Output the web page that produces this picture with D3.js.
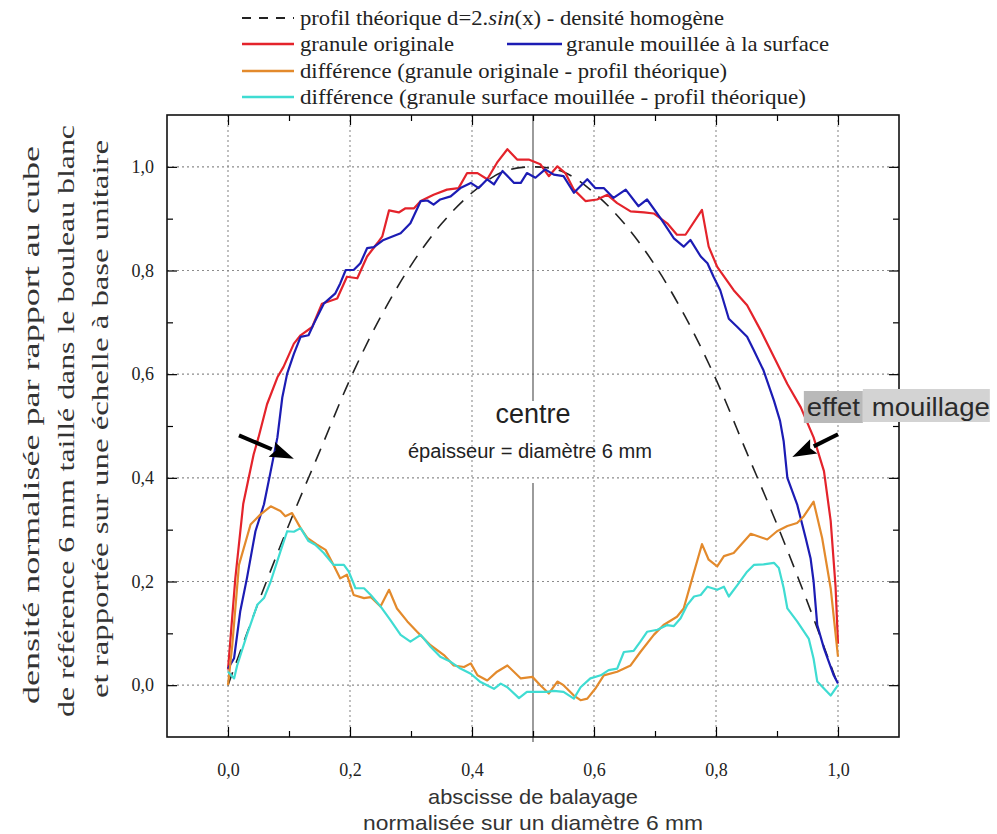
<!DOCTYPE html>
<html><head><meta charset="utf-8">
<script src="https://cdn.jsdelivr.net/npm/d3@7"></script>
<style>body{margin:0;background:#fff}svg{display:block}</style>
</head><body><svg id="c" width="997" height="834"></svg>
<script>
// ---------------- DATA ----------------
const xTicks=[0,0.2,0.4,0.6,0.8,1.0];
const xTickLabels=["0,0","0,2","0,4","0,6","0,8","1,0"];
const yTicks=[0,0.2,0.4,0.6,0.8,1.0];
const yTickLabels=["0,0","0,2","0,4","0,6","0,8","1,0"];
const minorTicks=[0.1,0.3,0.5,0.7,0.9];

// theoretical profile (dashed)
const theoX=[0,0.05,0.1,0.15,0.2,0.25,0.3,0.35,0.4,0.45,0.5,0.55,0.6,0.65,0.7,0.75,0.8,0.85,0.9,0.95,1.0];
const theoY=[0,0.16,0.31,0.45,0.59,0.71,0.81,0.89,0.95,0.99,1.0,0.99,0.95,0.89,0.81,0.71,0.59,0.45,0.31,0.16,0];

// granule originale (red)
const original=[[0.0,0.03],[0.012,0.206],[0.025,0.35],[0.042,0.445],[0.05,0.478],[0.064,0.542],[0.081,0.594],[0.091,0.614],[0.108,0.659],[0.119,0.675],[0.138,0.691],[0.154,0.736],[0.179,0.746],[0.195,0.788],[0.212,0.785],[0.228,0.827],[0.245,0.853],[0.253,0.866],[0.264,0.916],[0.28,0.912],[0.291,0.92],[0.305,0.92],[0.316,0.934],[0.337,0.946],[0.359,0.956],[0.378,0.959],[0.392,0.988],[0.409,0.988],[0.425,0.976],[0.441,1.008],[0.458,1.034],[0.474,1.014],[0.493,1.014],[0.512,1.005],[0.526,0.982],[0.54,1.001],[0.553,0.988],[0.567,0.956],[0.586,0.934],[0.605,0.937],[0.622,0.946],[0.638,0.93],[0.66,0.914],[0.682,0.912],[0.698,0.91],[0.72,0.891],[0.736,0.869],[0.75,0.869],[0.777,0.917],[0.788,0.846],[0.802,0.807],[0.829,0.762],[0.851,0.733],[0.873,0.685],[0.895,0.633],[0.917,0.581],[0.939,0.536],[0.96,0.478],[0.977,0.413],[0.988,0.317],[0.996,0.19],[1.0,0.08]];

// granule mouillée à la surface (blue)
const wetted=[[0.0,0.032],[0.01,0.052],[0.02,0.142],[0.031,0.206],[0.045,0.297],[0.059,0.349],[0.07,0.413],[0.081,0.478],[0.089,0.555],[0.097,0.601],[0.108,0.639],[0.119,0.672],[0.132,0.675],[0.141,0.698],[0.157,0.736],[0.176,0.756],[0.184,0.775],[0.193,0.801],[0.206,0.801],[0.217,0.814],[0.228,0.843],[0.239,0.845],[0.255,0.859],[0.283,0.872],[0.299,0.891],[0.316,0.934],[0.327,0.935],[0.337,0.927],[0.348,0.937],[0.365,0.943],[0.381,0.959],[0.398,0.969],[0.411,0.959],[0.425,0.976],[0.436,0.966],[0.45,0.992],[0.469,0.969],[0.48,0.969],[0.49,0.988],[0.504,0.979],[0.52,0.995],[0.534,0.985],[0.55,0.982],[0.567,0.95],[0.589,0.976],[0.602,0.959],[0.616,0.959],[0.632,0.94],[0.652,0.956],[0.673,0.924],[0.687,0.937],[0.709,0.901],[0.731,0.862],[0.747,0.846],[0.758,0.859],[0.775,0.827],[0.786,0.814],[0.796,0.788],[0.807,0.762],[0.821,0.707],[0.835,0.691],[0.851,0.672],[0.862,0.646],[0.878,0.607],[0.895,0.549],[0.905,0.51],[0.911,0.47],[0.917,0.4],[0.933,0.349],[0.947,0.284],[0.955,0.245],[0.96,0.2],[0.966,0.116],[0.977,0.071],[0.993,0.019],[1.0,0.003]];

// différence (granule originale - profil théorique) (orange)
const diffOriginal=[[0.0,0.0],[0.007,0.077],[0.018,0.232],[0.037,0.31],[0.053,0.329],[0.07,0.345],[0.086,0.336],[0.094,0.326],[0.105,0.332],[0.119,0.303],[0.13,0.284],[0.146,0.271],[0.16,0.261],[0.173,0.232],[0.184,0.206],[0.195,0.213],[0.206,0.174],[0.223,0.168],[0.234,0.17],[0.25,0.152],[0.264,0.184],[0.277,0.148],[0.294,0.123],[0.31,0.103],[0.332,0.077],[0.354,0.058],[0.37,0.038],[0.387,0.035],[0.398,0.042],[0.409,0.019],[0.425,0.009],[0.441,0.026],[0.458,0.038],[0.48,0.013],[0.499,0.016],[0.512,0.0],[0.526,-0.016],[0.54,0.007],[0.55,0.0],[0.567,-0.02],[0.578,-0.029],[0.589,-0.026],[0.602,-0.007],[0.616,0.019],[0.638,0.026],[0.66,0.038],[0.676,0.064],[0.698,0.097],[0.714,0.116],[0.736,0.132],[0.747,0.148],[0.761,0.206],[0.777,0.272],[0.788,0.242],[0.802,0.229],[0.813,0.249],[0.829,0.255],[0.857,0.292],[0.884,0.281],[0.9,0.297],[0.917,0.307],[0.933,0.313],[0.944,0.326],[0.96,0.354],[0.974,0.284],[0.988,0.187],[1.0,0.055]];

// différence (granule surface mouillée - profil théorique) (cyan)
const diffWetted=[[0.0,0.026],[0.01,0.013],[0.015,0.038],[0.031,0.097],[0.048,0.155],[0.059,0.168],[0.07,0.2],[0.086,0.258],[0.097,0.297],[0.108,0.296],[0.119,0.303],[0.132,0.278],[0.143,0.271],[0.157,0.255],[0.173,0.232],[0.19,0.232],[0.198,0.219],[0.209,0.187],[0.223,0.187],[0.234,0.174],[0.25,0.152],[0.266,0.126],[0.283,0.097],[0.299,0.084],[0.316,0.097],[0.332,0.074],[0.348,0.055],[0.365,0.045],[0.381,0.032],[0.398,0.022],[0.414,0.006],[0.436,-0.007],[0.447,0.003],[0.458,-0.004],[0.477,-0.025],[0.49,-0.013],[0.507,-0.013],[0.523,-0.013],[0.534,-0.011],[0.55,-0.013],[0.567,-0.026],[0.578,-0.004],[0.594,0.013],[0.611,0.019],[0.624,0.029],[0.638,0.032],[0.649,0.064],[0.665,0.066],[0.676,0.084],[0.687,0.103],[0.704,0.107],[0.72,0.116],[0.731,0.114],[0.742,0.129],[0.753,0.155],[0.764,0.171],[0.775,0.174],[0.786,0.19],[0.802,0.184],[0.813,0.19],[0.821,0.171],[0.835,0.193],[0.851,0.219],[0.862,0.232],[0.878,0.233],[0.895,0.236],[0.903,0.226],[0.911,0.187],[0.917,0.148],[0.933,0.123],[0.952,0.09],[0.96,0.051],[0.966,0.007],[0.988,-0.02],[1.0,0.0]];

const legendRow2=["granule originale","granule mouillée à la surface"];
const legendRow3="différence (granule originale - profil théorique)";
const legendRow4="différence (granule surface mouillée - profil théorique)";
const yTitle=["densité normalisée par rapport au cube","de référence 6 mm taillé dans le bouleau blanc","et rapportée sur une échelle à base unitaire"];
const xTitle=["abscisse de balayage","normalisée sur un diamètre 6 mm"];

// ---------------- DRAW ----------------
const colors={red:"#e4232b",blue:"#1c1cb4",orange:"#e38a2c",cyan:"#3fdcd2"};
const svg=d3.select("#c");
const L=167,R=899,T=115,B=737;
const x=d3.scaleLinear([-0.1,1.1],[L,R]);
const y=d3.scaleLinear([-0.1,1.1],[B,T]);
const SERIF='"Liberation Serif", serif';
const SANS='"Liberation Sans", sans-serif';

svg.append("clipPath").attr("id","clip").append("rect").attr("x",L).attr("y",T).attr("width",R-L).attr("height",B-T);

// grid
const grid=svg.append("g").attr("stroke","#8c8c8c").attr("stroke-width",1.1).attr("stroke-dasharray","2,3");
xTicks.forEach(v=>grid.append("line").attr("x1",x(v)).attr("x2",x(v)).attr("y1",T).attr("y2",B));
yTicks.forEach(v=>grid.append("line").attr("y1",y(v)).attr("y2",y(v)).attr("x1",L).attr("x2",R));

// centre line
const cg=svg.append("g").attr("stroke","#666").attr("stroke-width",1.3);
cg.append("line").attr("x1",x(0.5)).attr("x2",x(0.5)).attr("y1",T).attr("y2",y(0.548));
cg.append("line").attr("x1",x(0.5)).attr("x2",x(0.5)).attr("y1",y(0.39)).attr("y2",B+5);

// axes
function style(g){g.select(".domain").remove();g.selectAll(".tick line").attr("stroke","#000").attr("stroke-width",1.2);}
const fmtX=(d)=>xTickLabels[xTicks.indexOf(d)]||"";
const fmtY=(d)=>yTickLabels[yTicks.indexOf(d)]||"";
svg.append("g").attr("transform",`translate(0,${B})`).call(d3.axisBottom(x).tickValues(xTicks).tickSize(-10).tickPadding(26).tickFormat(fmtX)).call(style)
  .attr("font-family",null).attr("font-size",null)
  .selectAll("text").style("font-family",SERIF).style("font-size","18px").attr("fill","#222");
svg.append("g").attr("transform",`translate(0,${B})`).call(d3.axisBottom(x).tickValues(minorTicks).tickSize(-6).tickFormat("")).call(style);
svg.append("g").attr("transform",`translate(0,${T})`).call(d3.axisTop(x).tickValues(xTicks).tickSize(-10).tickFormat("")).call(style);
svg.append("g").attr("transform",`translate(0,${T})`).call(d3.axisTop(x).tickValues(minorTicks).tickSize(-6).tickFormat("")).call(style);
svg.append("g").attr("transform",`translate(${L},0)`).call(d3.axisLeft(y).tickValues(yTicks).tickSize(-10).tickPadding(13).tickFormat(fmtY)).call(style)
  .attr("font-family",null).attr("font-size",null)
  .selectAll("text").style("font-family",SERIF).style("font-size","18px").attr("fill","#222");
svg.append("g").attr("transform",`translate(${L},0)`).call(d3.axisLeft(y).tickValues(minorTicks).tickSize(-6).tickFormat("")).call(style);
svg.append("g").attr("transform",`translate(${R},0)`).call(d3.axisRight(y).tickValues(yTicks).tickSize(-10).tickFormat("")).call(style);
svg.append("g").attr("transform",`translate(${R},0)`).call(d3.axisRight(y).tickValues(minorTicks).tickSize(-6).tickFormat("")).call(style);

svg.append("rect").attr("x",L).attr("y",T).attr("width",R-L).attr("height",B-T).attr("fill","none").attr("stroke","#111").attr("stroke-width",1.6);

// series
const plot=svg.append("g").attr("clip-path","url(#clip)");
const line=d3.line().x(d=>x(d[0])).y(d=>y(d[1]));
const theo=theoX.map((v,i)=>[v,theoY[i]]);
plot.append("path").attr("d",d3.line().x(d=>x(d[0])).y(d=>y(d[1])).curve(d3.curveCatmullRom)(theo))
  .attr("fill","none").attr("stroke","#222").attr("stroke-width",1.6).attr("stroke-dasharray","14,10");
[[original,colors.red],[wetted,colors.blue],[diffOriginal,colors.orange],[diffWetted,colors.cyan]].forEach(([d,c])=>{
  plot.append("path").attr("d",line(d)).attr("fill","none").attr("stroke",c).attr("stroke-width",2.2).attr("stroke-linejoin","round");
});

// arrows
function arrow(x0,y0,x1,y1){
  const ax=x(x0),ay=y(y0),bx=x(x1),by=y(y1);
  const dx=bx-ax,dy=by-ay,len=Math.hypot(dx,dy),ux=dx/len,uy=dy/len;
  const hl=24,hw=8;
  const hx=bx-ux*hl,hy=by-uy*hl;
  svg.append("line").attr("x1",ax).attr("y1",ay).attr("x2",hx).attr("y2",hy).attr("stroke","#000").attr("stroke-width",4);
  svg.append("path").attr("d",`M${bx},${by}L${hx-uy*hw},${hy+ux*hw}L${hx+ux*4},${hy+uy*4}L${hx+uy*hw},${hy-ux*hw}Z`).attr("fill","#000");
}
arrow(0.018,0.482,0.108,0.437);
arrow(1.0,0.484,0.925,0.44);

// annotations
svg.append("text").attr("x",x(0.5)).attr("y",y(0.506)).attr("text-anchor","middle").style("font-family",SANS).style("font-size","27px").attr("fill","#222").text("centre");
svg.append("text").attr("x",x(0.495)).attr("y",y(0.438)).attr("text-anchor","middle").style("font-family",SANS).style("font-size","20px").attr("fill","#222")
  .attr("textLength",244).attr("lengthAdjust","spacingAndGlyphs").text("épaisseur = diamètre 6 mm");

const eg=svg.append("g");
eg.append("rect").attr("x",x(0.944)).attr("y",391).attr("width",59).attr("height",32).attr("fill","#b9b9b9");
eg.append("rect").attr("x",x(0.944)+59).attr("y",389).attr("width",127).attr("height",33).attr("fill","#d3d3d3");
eg.append("text").attr("x",x(0.944)+3).attr("y",416).style("font-family",SANS).style("font-size","26px").attr("fill","#2b2b2b")
  .attr("textLength",53).attr("lengthAdjust","spacingAndGlyphs").text("effet");
eg.append("text").attr("x",x(0.944)+68).attr("y",416).style("font-family",SANS).style("font-size","26px").attr("fill","#2b2b2b")
  .attr("textLength",118).attr("lengthAdjust","spacingAndGlyphs").text("mouillage");

// legend
const lg=svg.append("g").style("font-family",SERIF).style("font-size","22px").attr("fill","#222");
lg.append("line").attr("x1",242).attr("x2",294).attr("y1",18).attr("y2",18).attr("stroke","#222").attr("stroke-width",2).attr("stroke-dasharray","9,8");
const t1=lg.append("text").attr("x",300).attr("y",25).attr("textLength",424).attr("lengthAdjust","spacingAndGlyphs");
t1.append("tspan").text("profil théorique d=2.");
t1.append("tspan").style("font-style","italic").text("sin");
t1.append("tspan").text("(x) - densité homogène");
lg.append("line").attr("x1",242).attr("x2",294).attr("y1",44).attr("y2",44).attr("stroke",colors.red).attr("stroke-width",2.5);
lg.append("text").attr("x",300).attr("y",51).attr("textLength",154).attr("lengthAdjust","spacingAndGlyphs").text(legendRow2[0]);
lg.append("line").attr("x1",507).attr("x2",562).attr("y1",44).attr("y2",44).attr("stroke",colors.blue).attr("stroke-width",2.5);
lg.append("text").attr("x",566).attr("y",51).attr("textLength",263).attr("lengthAdjust","spacingAndGlyphs").text(legendRow2[1]);
lg.append("line").attr("x1",242).attr("x2",294).attr("y1",71).attr("y2",71).attr("stroke",colors.orange).attr("stroke-width",2.5);
lg.append("text").attr("x",300).attr("y",78).attr("textLength",427).attr("lengthAdjust","spacingAndGlyphs").text(legendRow3);
lg.append("line").attr("x1",242).attr("x2",294).attr("y1",97).attr("y2",97).attr("stroke",colors.cyan).attr("stroke-width",2.5);
lg.append("text").attr("x",300).attr("y",104).attr("textLength",506).attr("lengthAdjust","spacingAndGlyphs").text(legendRow4);

// y title
const yt=[{cx:31,cy:425,len:558},{cx:66,cy:421,len:592},{cx:100,cy:419,len:558}];
yTitle.forEach((s,i)=>{
  svg.append("text").attr("transform",`translate(${yt[i].cx},${yt[i].cy}) rotate(-90)`).attr("text-anchor","middle").attr("dominant-baseline","central")
   .style("font-family",SERIF).style("font-size","24px").attr("fill","#333").attr("textLength",yt[i].len).attr("lengthAdjust","spacingAndGlyphs").text(s);
});
// x title
svg.append("text").attr("x",x(0.5)).attr("y",804).attr("text-anchor","middle").style("font-family",SANS).style("font-size","21px").attr("fill","#333")
  .attr("textLength",210).attr("lengthAdjust","spacingAndGlyphs").text(xTitle[0]);
svg.append("text").attr("x",x(0.5)).attr("y",830).attr("text-anchor","middle").style("font-family",SANS).style("font-size","21px").attr("fill","#333")
  .attr("textLength",340).attr("lengthAdjust","spacingAndGlyphs").text(xTitle[1]);
</script></body></html>
